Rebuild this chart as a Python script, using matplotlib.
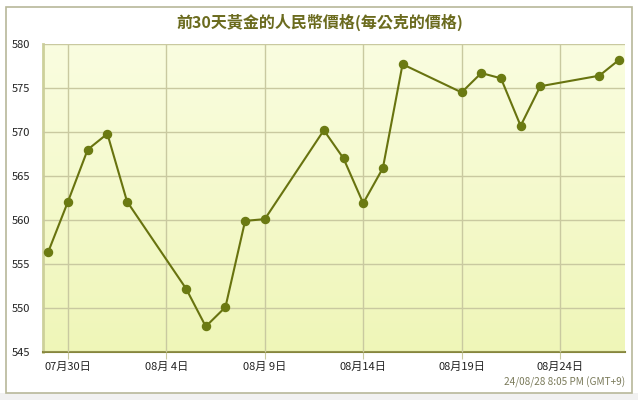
import datetime as dt
import numpy as np
import matplotlib
matplotlib.use("Agg")
import matplotlib.pyplot as plt
import matplotlib.dates as mdates
from matplotlib.patches import Rectangle
from matplotlib.colors import LinearSegmentedColormap

plt.rcParams['font.family'] = ['Noto Sans CJK TC', 'DejaVu Sans']

# gold price in CNY per gram, last 30 days
dates = ["2024-07-29", "2024-07-30", "2024-07-31", "2024-08-01", "2024-08-02",
         "2024-08-05", "2024-08-06", "2024-08-07", "2024-08-08", "2024-08-09",
         "2024-08-12", "2024-08-13", "2024-08-14", "2024-08-15", "2024-08-16",
         "2024-08-19", "2024-08-20", "2024-08-21", "2024-08-22", "2024-08-23",
         "2024-08-26", "2024-08-27"]
prices = [556.4, 562.1, 568.0, 569.8, 562.1,
          552.2, 547.9, 550.1, 559.9, 560.1,
          570.2, 567.0, 561.9, 565.9, 577.7,
          574.5, 576.7, 576.1, 570.7, 575.2,
          576.4, 578.2]
tick_dates = ["2024-07-30", "2024-08-04", "2024-08-09", "2024-08-14", "2024-08-19", "2024-08-24"]
tick_labels = ["07月30日", "08月 4日", "08月 9日", "08月14日", "08月19日", "08月24日"]
y_ticks = [545, 550, 555, 560, 565, 570, 575, 580]

title = "前30天黃金的人民幣價格(每公克的價格)"
stamp = "24/08/28 8:05 PM (GMT+9)"

x = [dt.datetime.strptime(d, "%Y-%m-%d") for d in dates]
xt = [dt.datetime.strptime(d, "%Y-%m-%d") for d in tick_dates]

fig = plt.figure(figsize=(6.38, 4.0), dpi=100)
fig.patch.set_facecolor("white")

# outer frame + grey strip under it
fig.patches.append(Rectangle((0, 0), 1, 7 / 400, transform=fig.transFigure,
                             facecolor="#f1f1f1", edgecolor="none", zorder=-2))
fig.patches.append(Rectangle((6 / 638, 7 / 400), 626 / 638, 386 / 400, transform=fig.transFigure,
                             facecolor="white", edgecolor="#b8b89a", linewidth=1.2, zorder=-1))

ax = fig.add_axes([43 / 638, 48 / 400, 582 / 638, 308 / 400])
ax.set_facecolor("none")

x0 = mdates.date2num(dt.datetime(2024, 7, 30)) - 25 / 19.68
x1 = mdates.date2num(dt.datetime(2024, 7, 30)) + 557 / 19.68

# vertical gradient background
grad = np.linspace(0, 1, 256).reshape(-1, 1)
cmap = LinearSegmentedColormap.from_list("bg", ["#fafde0", "#eff6b8"])
ax.imshow(grad, aspect="auto", cmap=cmap, extent=[x0, x1, 545, 580],
          origin="upper", zorder=0)
ax.set_xlim(x0, x1)
ax.set_ylim(545, 580)

ax.set_xticks(mdates.date2num(xt))
ax.set_xticklabels(tick_labels)
ax.set_yticks(y_ticks)
ax.grid(True, color="#c9c9a0", linewidth=1.0, zorder=1)
ax.set_axisbelow(False)
ax.tick_params(axis="x", length=5, color="#c9c9a0", labelsize=8, pad=2, labelcolor="#222222")
ax.tick_params(axis="y", length=0, labelsize=8, pad=9, labelcolor="#222222")

for s in ["top", "right"]:
    ax.spines[s].set_visible(False)
ax.spines["left"].set_color("#cdd09a")
ax.spines["left"].set_linewidth(2)
ax.spines["bottom"].set_color("#86863c")
ax.spines["bottom"].set_linewidth(1.5)

ax.plot(mdates.date2num(x), prices, color="#68730f", linewidth=1.5,
        marker="o", markersize=5.8, markerfacecolor="#6b7a12",
        markeredgecolor="#6b7a12", zorder=3, clip_on=False)

fig.text(320 / 638, 1 - 22 / 400, title, ha="center", va="center",
         fontsize=11.5, fontweight="bold", color="#6b6b1e")
fig.text(625 / 638, 1 - 382 / 400, stamp, ha="right", va="center",
         fontsize=7.2, color="#7a7a5a")

fig.savefig("out.png", dpi=100)
